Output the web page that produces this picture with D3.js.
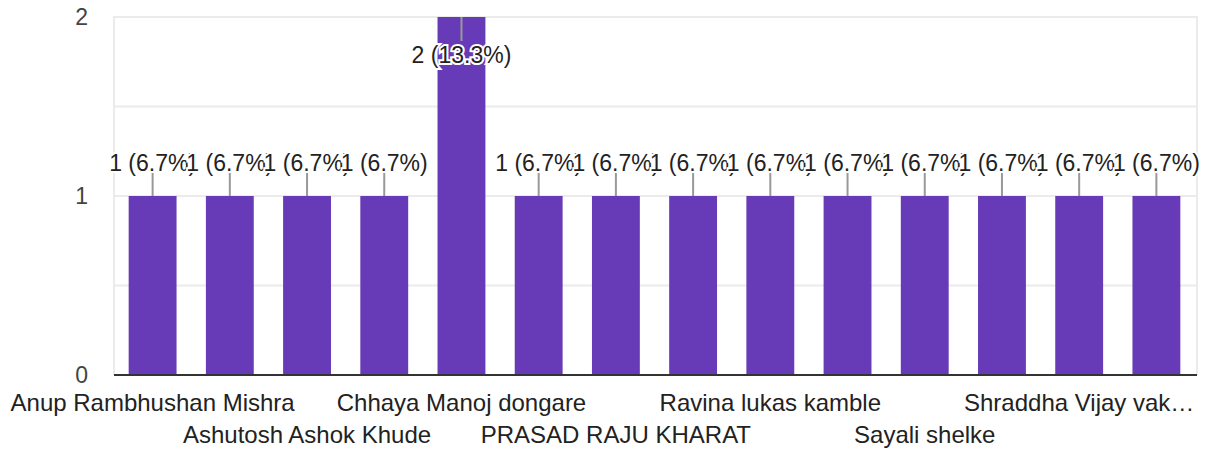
<html>
<head>
    <script src="https://d3js.org/d3.v7.min.js"></script>
    <style>
        body { margin: 0; background: #fff; }
        text { font-family: "Liberation Sans", Arial, sans-serif; }
    </style>
</head>

<body>
    <svg id="plot"></svg>

    <script>
        // respondents (labels of every second bar are hidden in the reference)
        var names = [
            "Anup Rambhushan Mishra", "(unlabelled 2)",
            "Ashutosh Ashok Khude", "(unlabelled 4)",
            "Chhaya Manoj dongare", "(unlabelled 6)",
            "PRASAD RAJU KHARAT", "(unlabelled 8)",
            "Ravina lukas kamble", "(unlabelled 10)",
            "Sayali shelke", "(unlabelled 12)",
            "Shraddha Vijay vakhare", "(unlabelled 14)"
        ];
        var counts = [1, 1, 1, 1, 2, 1, 1, 1, 1, 1, 1, 1, 1, 1];
        var yTicks = [0, 1, 2];
        var gridValues = [0.5, 1, 1.5, 2];

        var SizeX = 1206,
            SizeY = 449,
            Margin = { left: 114, right: 11, top: 17, bottom: 74 };

        var total = d3.sum(counts);

        var svg = d3.select("#plot")
            .attr("width", SizeX)
            .attr("height", SizeY);

        var x_scale = d3.scaleBand()
            .domain(names)
            .range([Margin.left, SizeX - Margin.right])
            .paddingInner(0.38)
            .paddingOuter(0.19);

        var y_scale = d3.scaleLinear()
            .domain([0, 2])
            .range([SizeY - Margin.bottom, Margin.top]);

        // grid
        svg.append("g").selectAll("line")
            .data(gridValues)
            .enter().append("line")
                .attr("x1", Margin.left).attr("x2", SizeX - Margin.right + 2)
                .attr("y1", function(d){ return y_scale(d); })
                .attr("y2", function(d){ return y_scale(d); })
                .attr("stroke", "#ebebeb")
                .attr("stroke-width", 2);

        svg.append("g").selectAll("line")
            .data([Margin.left, SizeX - Margin.right + 2])
            .enter().append("line")
                .attr("x1", function(d){ return d; })
                .attr("x2", function(d){ return d; })
                .attr("y1", y_scale(2) - 1)
                .attr("y2", y_scale(0))
                .attr("stroke", "#ebebeb")
                .attr("stroke-width", 2);

        // y axis labels
        var y_axis = d3.axisLeft(y_scale)
            .tickValues(yTicks)
            .tickFormat(d3.format("d"))
            .tickSize(0)
            .tickPadding(26);
        var y_axis_g = svg.append("g")
            .attr("transform", "translate(" + Margin.left + " 0)")
            .call(y_axis);
        y_axis_g.select(".domain").remove();
        y_axis_g.selectAll("text")
            .attr("font-size", 23)
            .attr("font-family", "Liberation Sans, Arial, sans-serif")
            .attr("fill", "#444");

        // bars
        svg.selectAll(".bar")
            .data(counts)
            .enter()
                .append("rect").classed("bar", true)
                    .attr("x", function(d, i){ return x_scale(names[i]); })
                    .attr("y", function(d){ return y_scale(d); })
                    .attr("width", x_scale.bandwidth())
                    .attr("height", function(d){ return y_scale(0) - y_scale(d); })
                    .attr("fill", "#673ab7");

        // x axis
        var x_axis = d3.axisBottom(x_scale)
            .tickSize(0)
            .tickPadding(0)
            .tickFormat(function(d, i){ return i % 2 === 0 ? d : ""; });
        var x_axis_g = svg.append("g")
            .attr("transform", "translate(0 " + y_scale(0) + ")")
            .call(x_axis);
        x_axis_g.select(".domain").remove();
        x_axis_g.selectAll("text")
            .attr("font-size", 24)
            .attr("font-family", "Liberation Sans, Arial, sans-serif")
            .attr("fill", "#222")
            .attr("dy", null)
            .attr("y", function(d, i){ return (i % 4 === 0) ? 36 : 68; })
            .each(function(){
                // truncate labels running past the right edge
                var t = d3.select(this), full = t.text();
                if (!full) return;
                var cx = x_scale(full) + x_scale.bandwidth() / 2;
                var s = full;
                while (s.length > 1 && cx + this.getComputedTextLength() / 2 > SizeX - 8) {
                    s = s.slice(0, -1);
                    t.text(s.trim() + "\u2026");
                }
            });

        svg.append("line")
            .attr("x1", Margin.left).attr("x2", SizeX - Margin.right + 2)
            .attr("y1", y_scale(0)).attr("y2", y_scale(0))
            .attr("stroke", "#333")
            .attr("stroke-width", 2);

        // annotations
        var fmtPct = d3.format(".1f");
        var ann = svg.append("g");
        counts.forEach(function(d, i){
            var cx = x_scale(names[i]) + x_scale.bandwidth() / 2;
            var top = y_scale(d);
            var inside = top - 45 < Margin.top;
            var s1 = inside ? top : top - 23,
                s2 = inside ? top + 24 : top,
                base = inside ? top + 46 : top - 25;
            ann.append("line")
                .attr("x1", cx).attr("x2", cx)
                .attr("y1", s1).attr("y2", s2)
                .attr("stroke", "#999")
                .attr("stroke-width", 2);
            ann.append("text")
                .attr("x", cx).attr("y", base)
                .attr("text-anchor", "middle")
                .attr("font-size", 23)
                .attr("fill", "#222")
                .attr("stroke", "#fff")
                .attr("stroke-width", 4)
                .attr("paint-order", "stroke")
                .text(d + " (" + fmtPct(d / total * 100) + "%)");
        });
    </script>
</body>
</html>
